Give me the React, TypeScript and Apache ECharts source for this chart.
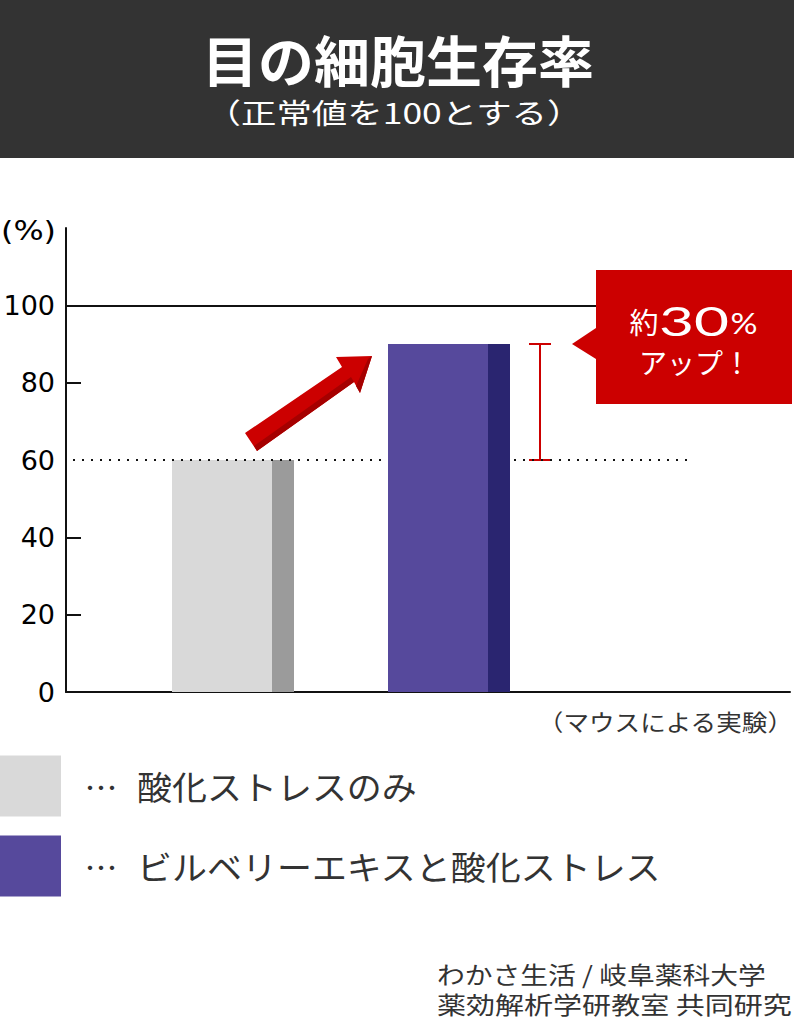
import React, { useEffect, useRef } from 'react';
import * as echarts from 'echarts';

// ---------- data ----------
const TITLE = '目の細胞生存率';
const SUBTITLE = '（正常値を100とする）';
const UNIT = '(%)';
const CATEGORIES = ['酸化ストレスのみ', 'ビルベリーエキスと酸化ストレス'];
const VALUES = [60, 90];
const FRONT_COLORS = ['#d9d9d9', '#56499c'];
const SIDE_COLORS = ['#9b9b9b', '#2a2570'];
const Y_TICKS = [0, 20, 40, 60, 80, 100];
const MINOR_TICKS = [20, 40, 80];
const NORMAL_VALUE = 100;
const Y_MAX = 120;
const CALLOUT_PREFIX = '約';
const CALLOUT_SUFFIX = '%';
const CALLOUT_LINE2 = 'アップ！';
const NOTE = '（マウスによる実験）';
const SOURCE = ['わかさ生活 / 岐阜薬科大学', '薬効解析学研教室 共同研究'];

// ---------- layout ----------
const JP = '"Noto Sans CJK JP", "Noto Sans CJK SC", sans-serif';
const NUM = '"DejaVu Sans", sans-serif';
const LATO = 'Lato, "Noto Sans", sans-serif';
const X_SPAN = 724; // x axis units == pixels of plot width
const BAR_LEFT = [106, 322];
const FRONT_W = 100;
const SIDE_W = 22;
const ERR_X = 474;
const CAP = 11;
const RED = '#cc0000';

const measureCtx =
  typeof document !== 'undefined' ? document.createElement('canvas').getContext('2d') : null;
function textWidth(str: string, size: number, family: string, weight: any = 'normal') {
  if (!measureCtx) return str.length * size;
  measureCtx.font = `${weight} ${size}px ${family}`;
  return measureCtx.measureText(str).width || str.length * size;
}

function label(str: string, o: any) {
  const weight = o.weight ?? 'normal';
  const w = textWidth(str, o.size, o.family, weight);
  const sx = o.width ? o.width / w : o.stretch ?? 1;
  return {
    type: 'text',
    x: o.x,
    y: o.y,
    scaleX: sx,
    z: o.z ?? 50,
    silent: true,
    style: {
      text: str,
      fill: o.fill,
      fontSize: o.size,
      fontFamily: o.family,
      fontWeight: weight,
      align: o.align,
      verticalAlign: 'middle',
      textAlign: o.align,
      textVerticalAlign: 'middle',
    },
  };
}

function buildOption() {
  const graphic: any[] = [];
  // banner
  graphic.push({ type: 'rect', z: 40, silent: true, shape: { x: 0, y: 0, width: 794, height: 158 }, style: { fill: '#333333' } });
  graphic.push(label(TITLE, { x: 398, y: 58, size: 55, weight: 'bold', family: JP, fill: '#ffffff', align: 'center', width: 392 }));
  graphic.push(label(SUBTITLE, { x: 394, y: 112, size: 28, family: JP, fill: '#ffffff', align: 'center', width: 378 }));
  // unit
  graphic.push(label(UNIT, { x: 56, y: 231, size: 26, family: NUM, fill: '#000', align: 'right', width: 55 }));
  // arrow
  graphic.push({
    type: 'polygon', z: 60, silent: true,
    shape: { points: [[245, 433], [342, 367], [336, 357], [372, 356], [360, 393], [354, 382], [257, 451]] },
    style: { fill: RED },
  });
  graphic.push({
    type: 'polygon', z: 61, silent: true,
    shape: { points: [[257, 451], [354, 382], [351, 377], [254, 446]] },
    style: { fill: '#a50000' },
  });
  graphic.push({
    type: 'polygon', z: 61, silent: true,
    shape: { points: [[372, 356], [360, 393], [356, 386], [368, 359]] },
    style: { fill: '#a50000' },
  });
  // callout
  graphic.push({
    type: 'polygon', z: 70, silent: true,
    shape: { points: [[596, 270], [792, 270], [792, 404], [596, 404], [596, 359], [572, 344], [596, 328]] },
    style: { fill: RED },
  });
  const diff = String(VALUES[1] - VALUES[0]);
  graphic.push(label(CALLOUT_PREFIX, { x: 644, y: 321, size: 29, family: JP, fill: '#fff', align: 'center', z: 71 }));
  graphic.push(label(diff, { x: 694, y: 320, size: 40, weight: 'normal', family: LATO, fill: '#fff', align: 'center', width: 70, z: 71 }));
  graphic.push(label(CALLOUT_SUFFIX, { x: 744, y: 323, size: 29, weight: 'normal', family: LATO, fill: '#fff', align: 'center', width: 27, z: 71 }));
  graphic.push(label(CALLOUT_LINE2, { x: 695, y: 362, size: 28, family: JP, fill: '#fff', align: 'center', z: 71 }));
  // note
  graphic.push(label(NOTE, { x: 793, y: 721, size: 23, family: JP, fill: '#333', align: 'right', width: 256 }));
  // legend
  const LEG_Y = [786, 866];
  CATEGORIES.forEach((c, i) => {
    graphic.push({ type: 'rect', z: 40, silent: true, shape: { x: 0, y: LEG_Y[i] - 30.5, width: 61, height: 61 }, style: { fill: FRONT_COLORS[i] } });
    graphic.push(label('…', { x: 101, y: LEG_Y[i], size: 33, family: JP, fill: '#333', align: 'center' }));
    graphic.push(label(c, { x: 137, y: LEG_Y[i], size: 33, family: JP, fill: '#333', align: 'left', stretch: 1.06 }));
  });
  // source
  graphic.push(label(SOURCE[0], { x: 437, y: 973, size: 24, family: JP, fill: '#333', align: 'left', width: 329 }));
  graphic.push(label(SOURCE[1], { x: 437, y: 1004, size: 24, family: JP, fill: '#333', align: 'left', width: 355 }));

  const axisLine = { show: true, lineStyle: { color: '#111', width: 2 } };

  return {
    animation: false,
    backgroundColor: '#ffffff',
    grid: { left: 66, top: 228, right: 10, bottom: 330, containLabel: false },
    xAxis: {
      type: 'value',
      min: 0,
      max: X_SPAN,
      axisLine,
      axisTick: { show: false },
      axisLabel: { show: false },
      splitLine: { show: false },
    },
    yAxis: {
      type: 'value',
      min: 0,
      max: Y_MAX,
      interval: 20,
      axisLine,
      axisTick: {
        show: true,
        inside: true,
        length: 15,
        customValues: MINOR_TICKS,
        lineStyle: { color: '#111', width: 2 },
      },
      axisLabel: {
        customValues: Y_TICKS,
        fontSize: 27,
        fontFamily: NUM,
        color: '#000',
        margin: 11,
      },
      splitLine: { show: false },
    },
    series: [
      {
        type: 'custom',
        name: 'bars',
        z: 2,
        silent: true,
        data: VALUES.map((v, i) => [BAR_LEFT[i], v]),
        renderItem: (params: any, api: any) => {
          const i = params.dataIndex;
          const left = api.value(0);
          const v = api.value(1);
          const p0 = api.coord([left, v]);
          const p1 = api.coord([left + FRONT_W, 0]);
          const p2 = api.coord([left + FRONT_W + SIDE_W, 0]);
          return {
            type: 'group',
            children: [
              { type: 'rect', shape: { x: p0[0], y: p0[1], width: p1[0] - p0[0], height: p1[1] - p0[1] }, style: { fill: FRONT_COLORS[i] } },
              { type: 'rect', shape: { x: p1[0], y: p0[1], width: p2[0] - p1[0], height: p1[1] - p0[1] }, style: { fill: SIDE_COLORS[i] } },
            ],
          };
        },
      },
      {
        type: 'line',
        name: 'refs',
        z: 3,
        data: [],
        silent: true,
        markLine: {
          silent: true,
          symbol: 'none',
          animation: false,
          label: { show: false },
          data: [
            [
              { coord: [0, NORMAL_VALUE], lineStyle: { color: '#111', width: 2, type: 'solid' } },
              { coord: [600, NORMAL_VALUE] },
            ],
            [
              { coord: [7, VALUES[0]], lineStyle: { color: '#111', width: 2, type: [2, 7] } },
              { coord: [320, VALUES[0]] },
            ],
            [
              { coord: [448, VALUES[0]], lineStyle: { color: '#111', width: 2, type: [2, 7] } },
              { coord: [624, VALUES[0]] },
            ],
          ],
        },
      },
      {
        type: 'custom',
        name: 'increase',
        z: 4,
        silent: true,
        data: [[ERR_X, VALUES[0], VALUES[1]]],
        renderItem: (params: any, api: any) => {
          const x = api.value(0);
          const lo = api.coord([x, api.value(1)]);
          const hi = api.coord([x, api.value(2)]);
          const st = { stroke: RED, lineWidth: 2 };
          return {
            type: 'group',
            children: [
              { type: 'line', shape: { x1: lo[0], y1: lo[1], x2: hi[0], y2: hi[1] }, style: st },
              { type: 'line', shape: { x1: lo[0] - CAP, y1: lo[1], x2: lo[0] + CAP, y2: lo[1] }, style: st },
              { type: 'line', shape: { x1: hi[0] - CAP, y1: hi[1], x2: hi[0] + CAP, y2: hi[1] }, style: st },
            ],
          };
        },
      },
    ],
    graphic: { elements: graphic },
  };
}

export default function App() {
  const ref = useRef<HTMLDivElement>(null);
  useEffect(() => {
    if (!ref.current) return;
    const chart = echarts.init(ref.current, null, { renderer: 'svg' });
    chart.setOption(buildOption() as any);
    return () => chart.dispose();
  }, []);
  return (
    <div
      ref={ref}
      style={{ position: 'absolute', left: 0, top: 0, width: 800, height: 1022, background: '#fff' }}
    />
  );
}
